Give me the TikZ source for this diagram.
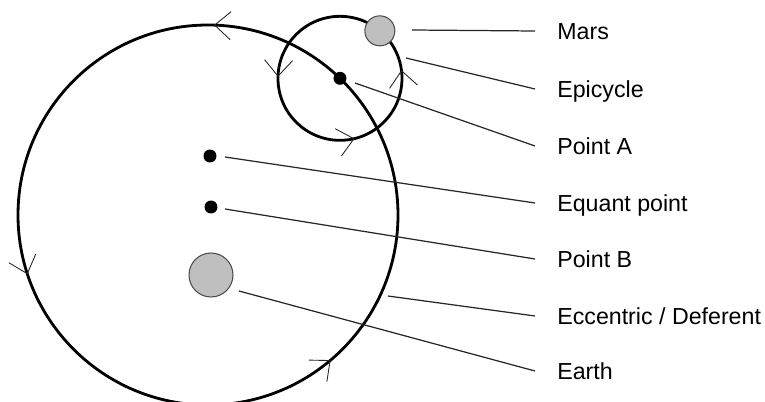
\documentclass[tikz,border=0pt]{standalone}
\usepackage{fontspec}
\setmainfont{Liberation Sans}
\tikzset{
  orbit/.style={line width=1.6pt},
  dot/.style={circle,fill=black,inner sep=0pt,minimum size=0.26cm},
  ball/.style={circle,fill=gray!50,draw=black!70,line width=0.6pt,inner sep=0pt},
  leader/.style={line width=0.7pt,black!85},
  lbl/.style={anchor=west,inner xsep=0.44cm,inner ysep=0pt,text height=9.5pt,text depth=0pt,
    font=\fontsize{13.2}{15}\selectfont},
  barb/.pic={\draw[line width=0.5pt,black!85] (-16,14) -- (0,0) -- (-16,-14);}
}
\begin{document}
\begin{tikzpicture}[x=0.02cm,y=0.02cm]
  \useasboundingbox (0,0) rectangle (765,-402);
  % deferent and epicycle
  \coordinate (defc) at (208,-215);
  \coordinate (epic) at ([shift={(46:190)}]defc);
  \draw[orbit] (defc) circle (190);
  \draw[orbit] (epic) circle (62);
  \foreach \a in {88,198,310}
    \pic[rotate=\a+90] at ([shift={(\a:190)}]defc) {barb};
  \foreach \a in {178,283,7}
    \pic[rotate=\a+90] at ([shift={(\a:62)}]epic) {barb};
  % bodies and points
  \node[dot] (pointa) at (epic) {};
  \node[ball,minimum size=0.6cm] (mars) at ([shift={(50:62)}]epic) {};
  \node[dot] (equant) at (210,-156) {};
  \node[dot] (pointb) at (211,-207) {};
  \node[ball,minimum size=0.88cm] (earth) at (211,-275) {};
  % labels
  \node[lbl] (lmars) at (535,-31) {Mars};
  \node[lbl] (lepi) at (535,-89) {Epicycle};
  \node[lbl] (lpa) at (535,-146) {Point A};
  \node[lbl] (leq) at (535,-203) {Equant point};
  \node[lbl] (lpb) at (535,-259) {Point B};
  \node[lbl] (ldef) at (535,-316) {Eccentric / Deferent};
  \node[lbl] (learth) at (535,-371) {Earth};
  % leader lines
  \coordinate (smars) at (412,-30);
  \coordinate (sepi) at (406,-58);
  \coordinate (spa) at (355,-83);
  \coordinate (seq) at (225,-157);
  \coordinate (spb) at (225,-209);
  \coordinate (sdef) at (388,-296);
  \coordinate (searth) at (239,-291);
  \draw[leader] (smars) -- (lmars.west);
  \draw[leader] (sepi) -- (lepi.west);
  \draw[leader] (spa) -- (lpa.west);
  \draw[leader] (seq) -- (leq.west);
  \draw[leader] (spb) -- (lpb.west);
  \draw[leader] (sdef) -- (ldef.west);
  \draw[leader] (searth) -- (learth.west);
\end{tikzpicture}
\end{document}
